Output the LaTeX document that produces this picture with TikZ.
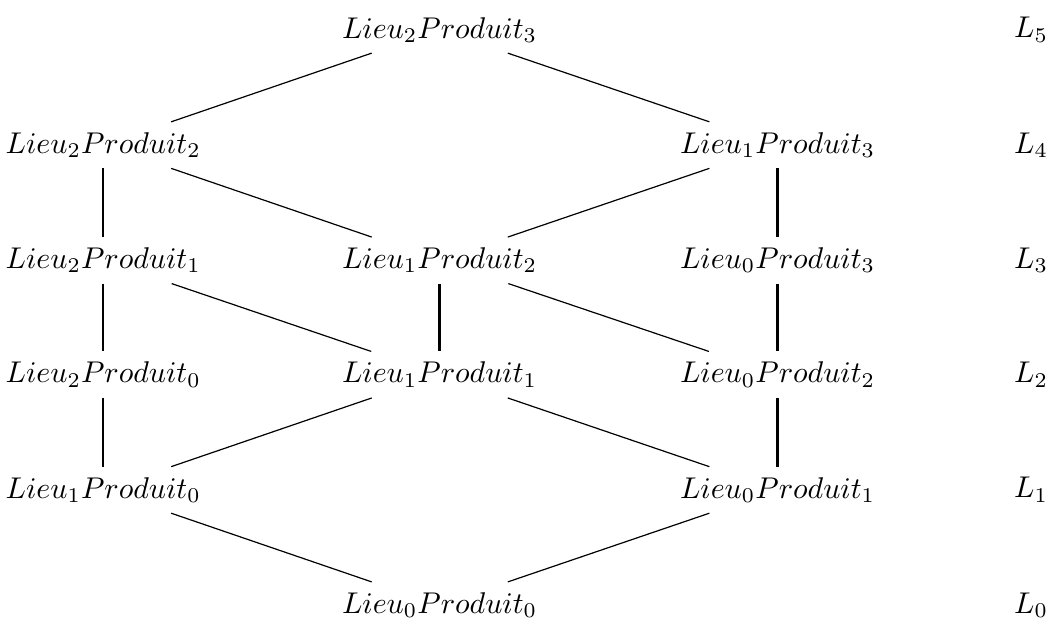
\documentclass[tikz,border=0pt]{standalone}
\usepackage{amsmath}
\usepackage{tikz}
\usetikzlibrary{arrows}

\begin{document}
\begin{tikzpicture}[vline/.style={line width=0.8pt}]
		\useasboundingbox (0,0) rectangle (12.36,7.31);
		\node (L2P3) at (5.15,6.96) {$Lieu_2Produit_3$};
		\node (L2P2) at (1.21,5.61) {$Lieu_2Produit_2$};
		\node (L1P3) at (9.11,5.61) {$Lieu_1Produit_3$};
		\node (L2P1) at (1.21,4.26) {$Lieu_2Produit_1$};
		\node (L1P2) at (5.15,4.26) {$Lieu_1Produit_2$};
		\node (L0P3) at (9.11,4.26) {$Lieu_0Produit_3$};
		\node (L2P0) at (1.21,2.92) {$Lieu_2Produit_0$};
		\node (L1P1) at (5.15,2.92) {$Lieu_1Produit_1$};
		\node (L0P2) at (9.11,2.92) {$Lieu_0Produit_2$};
		\node (L1P0) at (1.21,1.57) {$Lieu_1Produit_0$};
		\node (L0P1) at (9.11,1.57) {$Lieu_0Produit_1$};
		\node (L0P0) at (5.15,0.22) {$Lieu_0Produit_0$};
		%
		\node (L5) at (12.08,6.96) {$L_5$};
		\node (L4) at (12.08,5.61) {$L_4$};
		\node (L3) at (12.08,4.26) {$L_3$};
		\node (L2) at (12.08,2.92) {$L_2$};
		\node (L1) at (12.08,1.57) {$L_1$};
		\node (L0) at (12.08,0.22) {$L_0$};
		%
		\path[-]
		(L2P3) edge (L2P2)
		(L2P3) edge (L1P3)
		(L2P2) edge (L1P2)
		(L1P3) edge (L1P2)
		(L2P1) edge (L1P1)
		(L1P2) edge (L0P2)
		(L1P1) edge (L1P0)
		(L1P1) edge (L0P1)
		(L1P0) edge (L0P0)
		(L0P1) edge (L0P0);
		%
		\path[-,vline]
		(L2P2) edge (L2P1)
		(L1P3) edge (L0P3)
		(L2P1) edge (L2P0)
		(L1P2) edge (L1P1)
		(L0P3) edge (L0P2)
		(L2P0) edge (L1P0)
		(L0P2) edge (L0P1);
\end{tikzpicture}
\end{document}
